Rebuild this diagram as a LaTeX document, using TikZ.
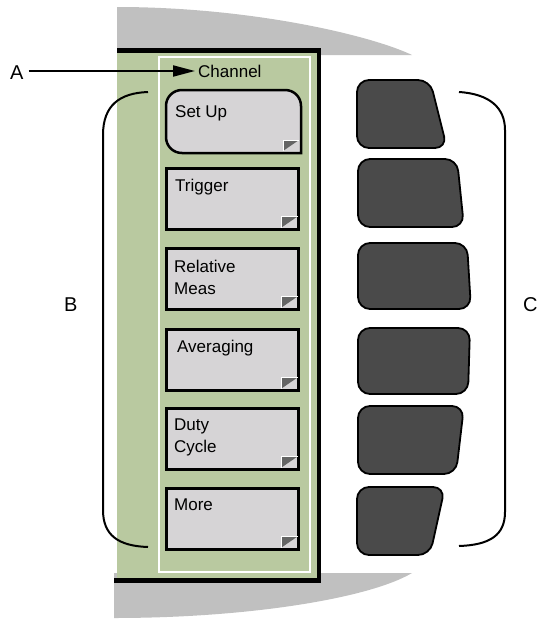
\documentclass[tikz,border=0pt]{standalone}
\usepackage{fontspec}
\setmainfont{Liberation Sans}
\usetikzlibrary{arrows.meta}
\definecolor{panelgreen}{RGB}{185,201,160}
\definecolor{keygray}{RGB}{214,212,214}
\definecolor{knobgray}{RGB}{74,74,74}
\definecolor{bezelgray}{RGB}{192,192,192}
\definecolor{tabgray}{RGB}{100,100,100}
\begin{document}
\begin{tikzpicture}[x=1pt,y=-1pt,
  softkey/.style={draw=black,line width=2.5pt,fill=keygray,minimum width=132pt,minimum height=61pt,inner sep=0pt,anchor=north west},
  keylabel/.style={anchor=base west,inner sep=0pt,font=\fontsize{17}{22}\selectfont,align=left},
  hardkey/.style={draw=black,line width=1.8pt,fill=knobgray,rounded corners=12pt},
  bracket/.style={line width=2pt},
  letter/.style={anchor=base west,inner sep=0pt,font=\fontsize{20}{24}\selectfont},
  tabedge/.style={white,line width=0.8pt}]
\useasboundingbox (0,0) rectangle (538,619);
% bezel
\fill[bezelgray] (117,7) .. controls (250,7) and (370,35) .. (412,55) -- (117,55) -- cycle;
\fill[bezelgray] (114,573) -- (412,573) .. controls (370,598) and (250,618) .. (114,618) -- cycle;
% panel
\fill[panelgreen] (117,50) rectangle (319,581);
\draw[black,line width=5pt] (117,50.5) -- (319,50.5);
\draw[black,line width=5pt] (114,580.5) -- (321,580.5);
\draw[black,line width=4.5pt] (319,48) -- (319,583);
\draw[white,line width=1.5pt] (159,57) rectangle (310,572);
% Set Up key
\draw[fill=keygray,line width=2.5pt] (301,153) -- (182,153) .. controls (173,153) and (166,146) .. (166,137) -- (166,106) .. controls (166,97) and (173,90) .. (182,90) -- (285,90) .. controls (294,90) and (301,97) .. (301,106) -- cycle;
\fill[tabgray] (283,151) -- (283,140) -- (299,140) -- cycle;
\draw[tabedge] (283,151) -- (283,140) -- (299,140);
\node[keylabel] (setup) at (175,117) {Set Up};
% soft keys
\foreach \n/\t in {trig/167,rel/247,avg/328,duty/407,more/487}{
  \node[softkey] (\n) at (165,\t) {};
  \fill[tabgray] ([shift={(-18,-3)}]\n.south east) -- ([shift={(-18,-14)}]\n.south east) -- ([shift={(-2,-14)}]\n.south east) -- cycle;
  \draw[tabedge] ([shift={(-18,-3)}]\n.south east) -- ([shift={(-18,-14)}]\n.south east) -- ([shift={(-2,-14)}]\n.south east);
}
\node[keylabel] (trigl) at (175,191) {Trigger};
\node[keylabel] (rell) at (174,294) {Relative\\Meas};
\node[keylabel] (avgl) at (177,352) {Averaging};
\node[keylabel] (dutyl) at (174,452) {Duty\\Cycle};
\node[keylabel] (morel) at (174,510) {More};
% hard keys
\draw[hardkey] (357,114) -- (357,80) -- (430,80) -- (447,148) -- (357,148) -- cycle;
\draw[hardkey] (358,193) -- (358,159) -- (457,159) -- (464,227) -- (358,227) -- cycle;
\draw[hardkey] (358,276) -- (358,243) -- (467,243) -- (471,309) -- (358,309) -- cycle;
\draw[hardkey] (358,361) -- (358,328) -- (470,328) -- (468,394) -- (358,394) -- cycle;
\draw[hardkey] (358,440) -- (358,406) -- (464,406) -- (456,474) -- (358,474) -- cycle;
\draw[hardkey] (357,521) -- (357,487) -- (445,487) -- (430,555) -- (357,555) -- cycle;
% brackets
\draw[bracket] (148,92) .. controls (120,93) and (103,105) .. (103,135) -- (103,510) .. controls (103,535) and (118,546) .. (148,547);
\draw[bracket] (459,92) .. controls (490,94) and (505,108) .. (505,130) -- (505,512) .. controls (505,535) and (490,545) .. (459,546);
% labels
\node[keylabel] (chan) at (198,77) {Channel};
\node[letter] (A) at (10,79) {A};
\node[letter] (B) at (64,311) {B};
\node[letter] (C) at (523,311) {C};
\draw[line width=2pt,-{Triangle[length=22pt,width=11pt]},shorten <=5pt,shorten >=3pt] (A.east |- 0,71) -- (chan.west |- 0,71);
\end{tikzpicture}
\end{document}
